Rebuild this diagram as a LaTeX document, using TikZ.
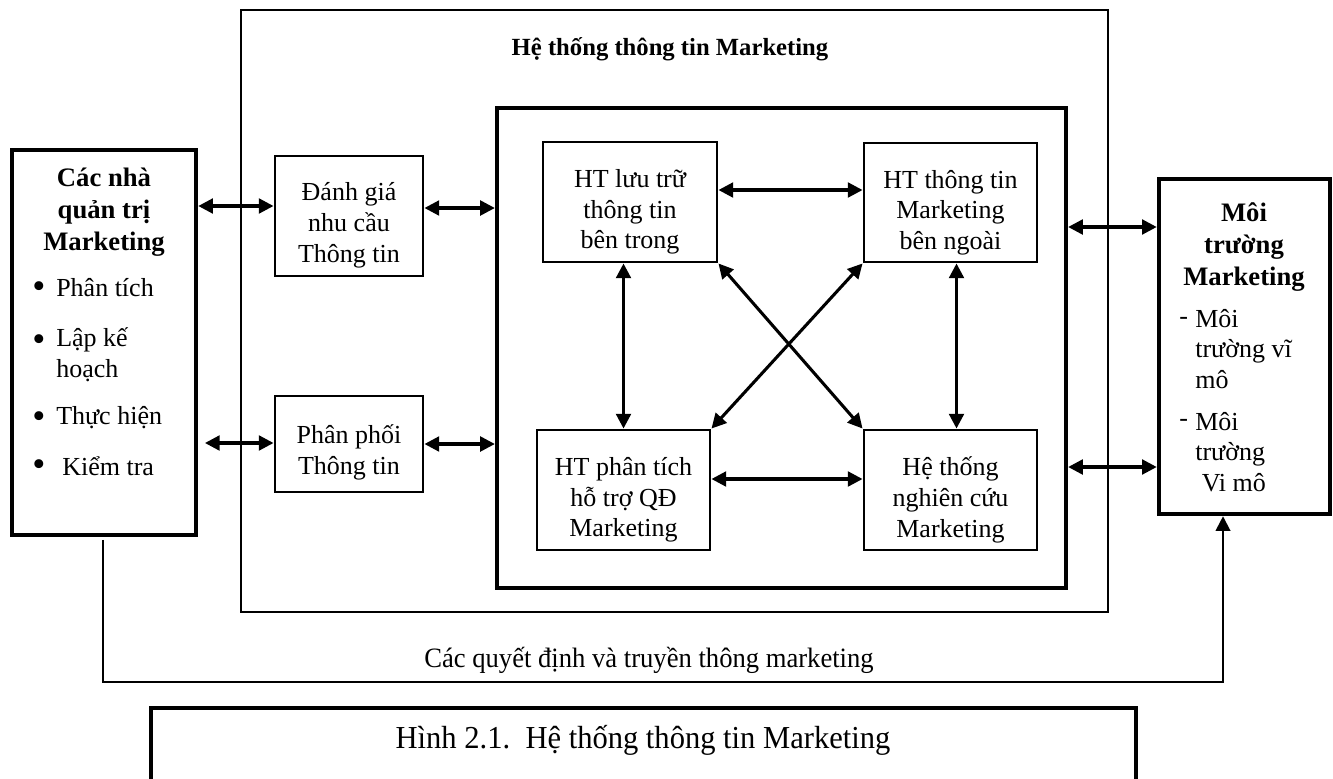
\documentclass[tikz,border=0pt]{standalone}
\usepackage{fontspec}
\setmainfont{Liberation Serif}
\usetikzlibrary{arrows.meta,fit,calc}
\tikzset{
  px/.style={x=0.75pt,y=-0.75pt},
  txt/.style={font=\fontsize{19.5}{23}\selectfont,inner sep=0pt,align=center},
  boldtxt/.style={font=\fontsize{20}{23.8}\selectfont\bfseries,inner sep=0pt,align=center},
  dot/.style={font=\fontsize{28}{28}\selectfont,inner sep=0pt},
  smallbox/.style={draw,line width=2.2pt,inner sep=0pt},
  sidebox/.style={draw,line width=3.4pt,inner sep=0pt},
  tip/.style={-{Triangle[length=11pt,width=11pt]}},
  biarrow/.style={{Triangle[length=11pt,width=11pt]}-{Triangle[length=11pt,width=11pt]},line width=2.3pt},
  thinline/.style={line width=1.5pt},
}
\begin{document}
\begin{tikzpicture}[px]
\useasboundingbox (0,0) rectangle (1333,778);

% outer frame: the marketing information system
\node[draw,thinline,inner sep=0pt,fit={(241,10) (1108,612)}] (mis) {};
\node[boldtxt,font=\fontsize{18.5}{22}\selectfont\bfseries] (mistitle) at (670,49) {Hệ thống thông tin Marketing};

% core subsystems frame
\node[draw,line width=3.2pt,inner sep=0pt,fit={(497,108) (1066,588)}] (core) {};

% managers
\node[sidebox,fit={(12,150) (196,535)}] (mgr) {};
\node[boldtxt] (mgrtitle) at (104,212) {Các nhà\\quản trị\\Marketing};
\node[dot] (mb1) at (39,290) {•};
\node[txt,anchor=west] (mt1) at (56,288) {Phân tích};
\node[dot] (mb2) at (39,343) {•};
\node[txt,anchor=west,align=left] (mt2) at (56,355) {Lập kế\\hoạch};
\node[dot] (mb3) at (39,420) {•};
\node[txt,anchor=west] (mt3) at (56,418) {Thực hiện};
\node[dot] (mb4) at (39,468) {•};
\node[txt,anchor=west] (mt4) at (62,466) {Kiểm tra};

% marketing environment
\node[sidebox,fit={(1159,179) (1330,514)}] (env) {};
\node[boldtxt] (envtitle) at (1244,247) {Môi\\trường\\Marketing};
\node[txt,anchor=west] (ed1) at (1179,321) {-};
\node[txt,anchor=west,align=left] (et1) at (1195,349) {Môi\\trường vĩ\\mô};
\node[txt,anchor=west] (ed2) at (1179,423) {-};
\node[txt,anchor=west,align=left] (et2) at (1195,452) {Môi\\trường\\\ Vi mô};

% information needs and distribution
\node[smallbox,fit={(275,156) (423,276)}] (need) {};
\node[txt] (needtxt) at ([yshift=-7pt]need.center) {Đánh giá\\nhu cầu\\Thông tin};
\node[smallbox,fit={(275,396) (423,492)}] (dist) {};
\node[txt] (disttxt) at ([yshift=-6.5pt]dist.center) {Phân phối\\Thông tin};

% four subsystems
\node[smallbox,fit={(543,142) (717,262)}] (store) {};
\node[txt] (storetxt) at ([yshift=-7.5pt]store.center) {HT lưu trữ\\thông tin\\bên trong};
\node[smallbox,fit={(864,143) (1037,262)}] (ext) {};
\node[txt] (exttxt) at ([yshift=-7.5pt]ext.center) {HT thông tin\\Marketing\\bên ngoài};
\node[smallbox,fit={(537,430) (710,550)}] (dss) {};
\node[txt] (dsstxt) at ([yshift=-7.5pt]dss.center) {HT phân tích\\hỗ trợ QĐ\\Marketing};
\node[smallbox,fit={(864,430) (1037,550)}] (res) {};
\node[txt] (restxt) at ([yshift=-7.5pt]res.center) {Hệ thống\\nghiên cứu\\Marketing};

% managers <-> assessment / distribution
\draw[biarrow] (mgr.east |- 0,206) -- (need.west |- 0,206);
\draw[biarrow] ([xshift=5pt]mgr.east |- 0,443) -- (dist.west |- 0,443);
% assessment / distribution <-> core
\draw[biarrow] (need.east |- 0,208) -- (core.west |- 0,208);
\draw[biarrow] (dist.east |- 0,444) -- (core.west |- 0,444);
% core <-> environment
\draw[biarrow] (core.east |- 0,227) -- (env.west |- 0,227);
\draw[biarrow] (core.east |- 0,467) -- (env.west |- 0,467);

% links between the subsystems
\draw[biarrow] (store.east |- 0,190) -- (ext.west |- 0,190);
\draw[biarrow] (dss.east |- 0,479) -- (res.west |- 0,479);
\draw[biarrow] (dss.north |- store.south) -- (dss.north);
\draw[biarrow] ([xshift=4.5pt]ext.south) -- ([xshift=4.5pt]ext.south |- res.north);
\draw[biarrow] (store.south east) -- (res.north west);
\draw[biarrow] (ext.south west) -- (dss.north east);

% decisions and communications feedback
\coordinate (fbl) at (103,682);
\coordinate (fbr) at (1223,682);
\draw[thinline,tip] ([yshift=-2pt]mgr.south -| fbl) -- (fbl) -- (fbr) -- (env.south -| fbr);
\node[txt,font=\fontsize{21}{25}\selectfont] (fblabel) at (649,660) {\resizebox{337pt}{\height}{Các quyết định và truyền thông marketing}};

% figure caption
\node[draw,line width=3pt,inner sep=0pt,fit={(151,708) (1136,800)}] (capbox) {};
\node[txt,font=\fontsize{24}{28}\selectfont] (caption) at (643,740) {\resizebox{371pt}{\height}{Hình 2.1.\ \ Hệ thống thông tin Marketing}};
\end{tikzpicture}
\end{document}
